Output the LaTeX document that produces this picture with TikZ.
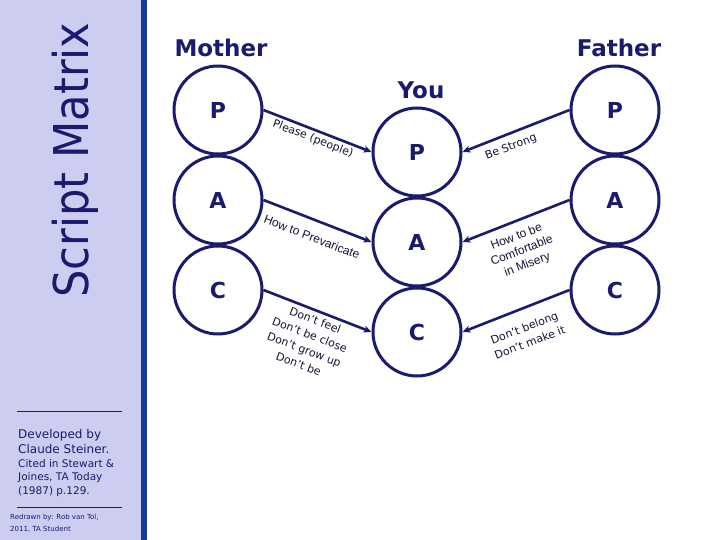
\documentclass[tikz,border=0pt]{standalone}
\usepackage{fontspec}
\setmainfont{DejaVu Sans}
\newfontfamily\verd{DejaVu Sans}
\newfontfamily\arialf{Liberation Sans}
\usetikzlibrary{arrows.meta}
\definecolor{navy}{RGB}{26,26,110}
\definecolor{inkc}{RGB}{20,20,55}
\definecolor{lav}{RGB}{205,205,242}
\definecolor{barblue}{RGB}{20,60,160}
\begin{document}
\begin{tikzpicture}[x=1pt,y=-1pt,
  circ/.style={circle,draw=navy,line width=3pt,minimum size=88pt,inner sep=0pt,
     font=\verd\bfseries\fontsize{22}{22}\selectfont,text=navy},
  head/.style={font=\verd\bfseries\fontsize{23}{23}\selectfont,text=navy},
  conn/.style={draw=navy,line width=2.6pt,-{Stealth[length=8pt,width=7pt]}},
  lblv/.style={font=\verd\fontsize{11}{15.5}\selectfont,text=inkc,inner sep=0pt,align=center},
  lbla/.style={font=\arialf\fontsize{12}{15}\selectfont,text=inkc,inner sep=0pt,align=center},
  side/.style={anchor=base west,inner sep=0pt,text=navy}
]
\useasboundingbox (0,0) rectangle (720,540);
\fill[white] (0,0) rectangle (720,540);
% left panel
\fill[lav] (0,0) rectangle (141,540);
\fill[barblue] (141,0) rectangle (147,540);
\node[rotate=90,anchor=base,inner sep=0pt,text=navy,font=\verd\fontsize{48}{48}\selectfont] (title) at (88,160) {\scalebox{0.9}[1]{Script Matrix}};
\coordinate (d1a) at (17,411); \coordinate (d1b) at (122,411);
\coordinate (d2a) at (17,507); \coordinate (d2b) at (122,507);
\draw[navy,line width=0.9pt] (d1a) -- (d1b);
\draw[navy,line width=0.9pt] (d2a) -- (d2b);
\node[side,font=\verd\fontsize{12}{12}\selectfont] (s1) at (18,438) {Developed by};
\node[side,font=\verd\fontsize{12}{12}\selectfont] (s2) at (18,453) {Claude Steiner.};
\node[side,font=\verd\fontsize{10.5}{10.5}\selectfont] (s3) at (18,467) {Cited in Stewart \&};
\node[side,font=\verd\fontsize{10.5}{10.5}\selectfont] (s4) at (18,480) {Joines, TA Today};
\node[side,font=\verd\fontsize{10.5}{10.5}\selectfont] (s5) at (18,494) {(1987) p.129.};
\node[side,font=\verd\fontsize{7}{7}\selectfont] (s6) at (10,519) {Redrawn by: Rob van Tol,};
\node[side,font=\verd\fontsize{7}{7}\selectfont] (s7) at (10,531) {2011, TA Student};
% headings
\node[head] (hm) at (221,48) {Mother};
\node[head] (hf) at (619,48) {Father};
\node[head] (hy) at (421,90) {You};
% circles
\node[circ] (mP) at (218,110) {P};
\node[circ] (mA) at (218,200) {A};
\node[circ] (mC) at (218,290) {C};
\node[circ] (yP) at (417,152) {P};
\node[circ] (yA) at (417,242) {A};
\node[circ] (yC) at (417,332) {C};
\node[circ] (fP) at (615,110) {P};
\node[circ] (fA) at (615,200) {A};
\node[circ] (fC) at (615,290) {C};
% connectors
\draw[conn] (mP.east) -- (yP.west);
\draw[conn] (mA.east) -- (yA.west);
\draw[conn] (mC.east) -- (yC.west);
\draw[conn] (fP.west) -- (yP.east);
\draw[conn] (fA.west) -- (yA.east);
\draw[conn] (fC.west) -- (yC.east);
% labels
\node[lblv,rotate=-21] (l1) at (313,139) {Please (people)};
\node[lbla,rotate=-21] (l2) at (312,237) {How to Prevaricate};
\node[lblv,rotate=-21] (l3) at (307,342) {Don’t feel\\Don’t be close\\Don’t grow up\\Don’t be};
\node[lblv,rotate=21] (r1) at (511,147) {Be Strong};
\node[lbla,rotate=21] (r2) at (522,251) {How to be\\Comfortable\\in Misery};
\node[lblv,rotate=21] (r3) at (527,335) {Don’t belong\\Don’t make it};
\end{tikzpicture}
\end{document}
